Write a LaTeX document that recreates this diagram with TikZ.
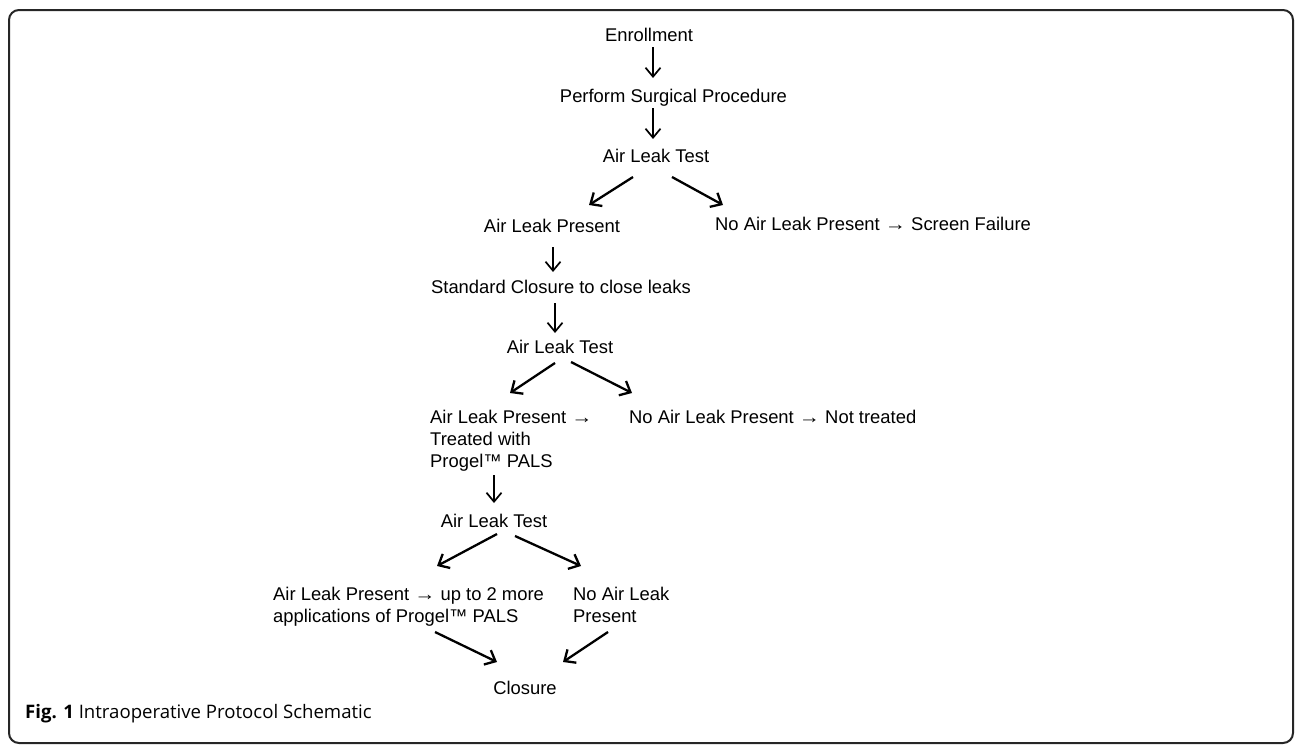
\documentclass[tikz,border=0pt]{standalone}
\usepackage{fontspec}
\setmainfont{Liberation Sans}
\newfontfamily\capfont{Open Sans}
\usetikzlibrary{arrows.meta,calc}
\tikzset{
  lbl/.style={inner sep=0pt, font=\fontsize{18.4}{22}\selectfont},
  varr/.style={line width=1.5pt, -{Straight Barb[length=9pt,width=15pt,line width=1.7pt]}},
  darr/.style={line width=2.3pt, -{Straight Barb[length=9pt,width=16pt,line width=2.3pt]}},
  frame/.style={line width=2pt, draw=black!85, rounded corners=10pt}
}
\newcommand{\rarr}{\scalebox{1.15}[1]{→}}
\begin{document}
\begin{tikzpicture}[x=1pt,y=-1pt]
\useasboundingbox (0,0) rectangle (1296,745);
\draw[frame] (9,10) rectangle (1293,743);

\node[lbl,anchor=base] (e) at (649,41) {Enrollment};
\node[lbl,anchor=base] (p) at (673.5,102) {Perform Surgical Procedure};
\node[lbl,anchor=base] (t1) at (656,162) {Air Leak Test};
\node[lbl,anchor=base] (alp1) at (552,232) {Air Leak Present};
\node[lbl,anchor=base west] (nal1) at (715,230) {No Air Leak Present \rarr{} Screen Failure};
\node[lbl,anchor=base] (sc) at (561,293) {Standard Closure to close leaks};
\node[lbl,anchor=base] (t2) at (560,353) {Air Leak Test};
\node[lbl,anchor=base west] (alp2) at (430,423) {\vtop{\hbox{Air Leak Present \rarr}\hbox{Treated with}\hbox{Progel™ PALS}}};
\node[lbl,anchor=base west] (nal2) at (629,423) {No Air Leak Present \rarr{} Not treated};
\node[lbl,anchor=base] (t3) at (494,527) {Air Leak Test};
\node[lbl,anchor=base west] (alp3) at (273,600) {\vtop{\hbox{Air Leak Present \rarr{} up to 2 more}\hbox{applications of Progel™ PALS}}};
\node[lbl,anchor=base west] (nal3) at (573,600) {\vtop{\hbox{No Air Leak}\hbox{Present}}};
\node[lbl,anchor=base] (cl) at (525,694) {Closure};

\node[inner sep=0pt,anchor=base west,font=\capfont\fontsize{18.6}{22}\selectfont] (cap) at (25,718) {\textbf{Fig. 1} Intraoperative Protocol Schematic};

\draw[varr] ($(e.base)+(4,6)$) -- ($(p.base)+(-20.5,-24)$);
\draw[varr] ($(p.base)+(-20.5,6)$) -- ($(t1.base)+(-3,-23)$);
\draw[darr] ($(t1.base)+(-23,15)$) -- ($(alp1.base)+(37,-27)$);
\draw[darr] ($(t1.base)+(16,15)$) -- ($(nal1.base west)+(8,-25)$);
\draw[varr] ($(alp1.base)+(1,15)$) -- ($(sc.base)+(-8,-21)$);
\draw[varr] ($(sc.base)+(-6,10)$) -- ($(t2.base)+(-5,-20)$);
\draw[darr] ($(t2.base)+(-5,10)$) -- ($(alp2.base west)+(80,-30)$);
\draw[darr] ($(t2.base)+(11,9)$) -- ($(nal2.base west)+(3,-30)$);
\draw[varr] ($(alp2.base west)+(64,52)$) -- ($(t3.base)+(0,-24)$);
\draw[darr] ($(t3.base)+(3,7)$) -- ($(alp3.base west)+(164,-34)$);
\draw[darr] ($(t3.base)+(21,9)$) -- ($(nal3.base west)+(8,-34)$);
\draw[darr] ($(alp3.base west)+(162,32)$) -- ($(cl.base)+(-28,-32)$);
\draw[darr] ($(nal3.base west)+(35,32)$) -- ($(cl.base)+(38,-32)$);
\end{tikzpicture}
\end{document}
